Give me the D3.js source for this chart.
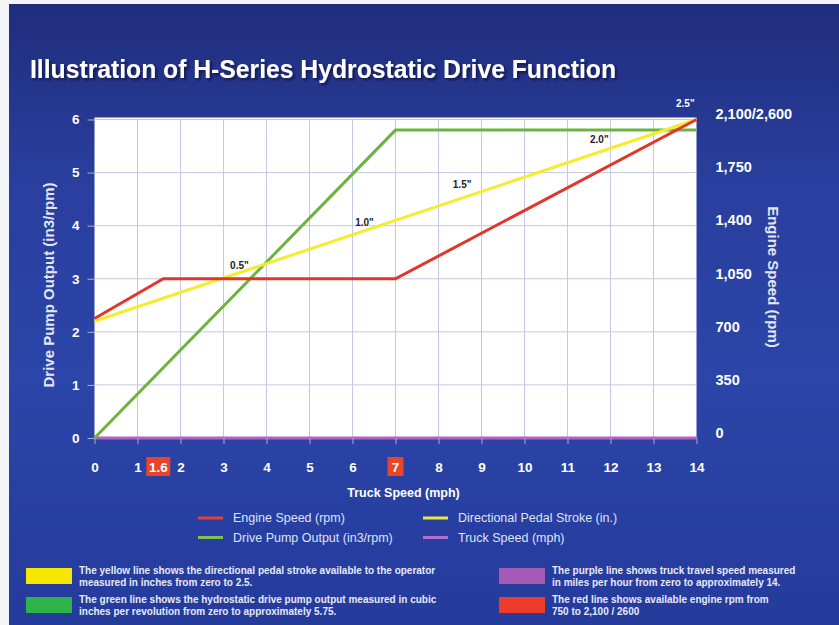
<!DOCTYPE html>
<html>
<head>
<meta charset="utf-8">
<script src="https://cdn.jsdelivr.net/npm/d3@7"></script>
<style>
  html, body { margin: 0; padding: 0; background: #f4f5f8; }
  svg { display: block; font-family: "Liberation Sans", Arial, sans-serif; }
  .axis text { fill: #ffffff; font-weight: bold; font-size: 13.5px; }
  .axis line { stroke: #a9aed6; }
  .axis path { display: none; }
</style>
</head>
<body>
<svg id="chart" width="839" height="625"></svg>
<script>
// Data
const xTicks = [0, 1, 2, 3, 4, 5, 6, 7, 8, 9, 10, 11, 12, 13, 14];
const leftTicks = [0, 1, 2, 3, 4, 5, 6];
const rightTickLabels = ["0", "350", "700", "1,050", "1,400", "1,750", "2,100/2,600"];
const highlightTicks = [{ v: 1.6, label: "1.6", nudge: -5 }, { v: 7, label: "7", nudge: 0 }];

// series: [truck speed (mph), left-axis value]
const engineSpeed = [[0, 2.25], [1.6, 3.0], [7, 3.0], [14, 6.0]];
const pedalStroke = [[0, 2.2], [14, 6.0]];
const pumpOutput = [[0, 0], [7, 5.8], [14, 5.8]];
const truckSpeed = [[0, 0], [14, 0]];

const strokeLabels = [
    { t: '0.5"', x: 3.37, y: 3.25 },
    { t: '1.0"', x: 6.28, y: 4.06 },
    { t: '1.5"', x: 8.55, y: 4.77 },
    { t: '2.0"', x: 11.74, y: 5.62 },
    { t: '2.5"', x: 13.74, y: 6.3 }
];

const colors = { red: "#e2362b", yellow: "#f4ec2c", green: "#6db33f", purple: "#b463c4" };

const legendItems = [
    { name: "Engine Speed (rpm)", color: "#e2403c", col: 0, row: 0 },
    { name: "Directional Pedal Stroke (in.)", color: "#eee63a", col: 1, row: 0 },
    { name: "Drive Pump Output (in3/rpm)", color: "#7fbf55", col: 0, row: 1 },
    { name: "Truck Speed (mph)", color: "#b070d2", col: 1, row: 1 }
];

const notes = [
    { color: "#f7e600", col: 0, row: 0, lines: ["The yellow line shows the directional pedal stroke available to the operator", "measured in inches from zero to 2.5."] },
    { color: "#2fb34b", col: 0, row: 1, lines: ["The green line shows the hydrostatic drive pump output measured in cubic", "inches per revolution from zero to approximately 5.75."] },
    { color: "#a35bb5", col: 1, row: 0, lines: ["The purple line shows truck travel speed measured", "in miles per hour from zero to approximately 14."] },
    { color: "#ee3a2b", col: 1, row: 1, lines: ["The red line shows available engine rpm from", "750 to 2,100 / 2600"] }
];

const svg = d3.select("#chart");
const defs = svg.append("defs");

let bg = defs.append("linearGradient").attr("id", "bg")
    .attr("x1", 0).attr("y1", 0).attr("x2", 0).attr("y2", 1);
bg.append("stop").attr("offset", "0%").attr("stop-color", "#1f2d7c");
bg.append("stop").attr("offset", "30%").attr("stop-color", "#2a3f9f");
bg.append("stop").attr("offset", "60%").attr("stop-color", "#2b45a8");
bg.append("stop").attr("offset", "100%").attr("stop-color", "#253b9c");

let shadow = defs.append("filter").attr("id", "shadow")
    .attr("x", "-5%").attr("y", "-20%").attr("width", "110%").attr("height", "150%");
shadow.append("feDropShadow").attr("dx", 2).attr("dy", 2).attr("stdDeviation", 1)
    .attr("flood-color", "#0a1040").attr("flood-opacity", 0.8);

svg.append("rect").attr("x", 9).attr("y", 4).attr("width", 830).attr("height", 621)
    .attr("fill", "url(#bg)");

// Title
svg.append("text")
    .attr("x", 30).attr("y", 78)
    .attr("fill", "#ffffff")
    .attr("font-weight", "bold")
    .attr("font-size", 25)
    .attr("textLength", 586)
    .attr("lengthAdjust", "spacingAndGlyphs")
    .attr("filter", "url(#shadow)")
    .text("Illustration of H-Series Hydrostatic Drive Function");

// Scales
const x = d3.scaleLinear().domain([0, 14]).range([94.5, 696.5]);
const y = d3.scaleLinear().domain([0, 6]).range([438, 119.5]);

// Plot area
svg.append("rect")
    .attr("x", x(0)).attr("y", y(6) - 2)
    .attr("width", x(14) - x(0)).attr("height", y(0) - y(6) + 2)
    .attr("fill", "#ffffff");

// Grid
svg.append("g").selectAll("line.v")
    .data(xTicks.slice(1, -1)).enter().append("line")
    .attr("x1", d => x(d)).attr("x2", d => x(d))
    .attr("y1", y(6)).attr("y2", y(0))
    .attr("stroke", "#c4c8e4").attr("stroke-width", 1);
svg.append("g").selectAll("line.h")
    .data(leftTicks.slice(1)).enter().append("line")
    .attr("x1", x(0)).attr("x2", x(14))
    .attr("y1", d => y(d)).attr("y2", d => y(d))
    .attr("stroke", "#c4c8e4").attr("stroke-width", 1);

// Lines
const line = d3.line().x(d => x(d[0])).y(d => y(d[1]));
const series = [
    { data: truckSpeed, color: colors.purple },
    { data: pumpOutput, color: colors.green },
    { data: pedalStroke, color: colors.yellow },
    { data: engineSpeed, color: colors.red }
];
svg.append("g").selectAll("path")
    .data(series).enter().append("path")
    .attr("d", d => line(d.data))
    .attr("fill", "none")
    .attr("stroke", d => d.color)
    .attr("stroke-width", 3)
    .attr("stroke-linejoin", "miter");

// Stroke labels on yellow line
svg.append("g").selectAll("text")
    .data(strokeLabels).enter().append("text")
    .attr("x", d => x(d.x)).attr("y", d => y(d.y))
    .attr("dy", "0.35em")
    .attr("text-anchor", "middle")
    .attr("font-size", 10)
    .attr("font-weight", "bold")
    .attr("fill", (d, i) => i == strokeLabels.length - 1 ? "#ffffff" : "#222222")
    .text(d => d.t);

// Axes
svg.append("g").attr("class", "axis")
    .attr("transform", "translate(" + x(0) + ",0)")
    .call(d3.axisLeft(y).tickValues(leftTicks).tickSize(7).tickPadding(8).tickFormat(d3.format("d")));

svg.append("g").attr("class", "axis right")
    .attr("transform", "translate(" + x(14) + ",0)")
    .call(d3.axisRight(y).tickValues(leftTicks).tickSize(0).tickPadding(19)
        .tickFormat((d, i) => rightTickLabels[i]))
    .selectAll("text").attr("dy", "-0.05em").style("font-size", "14.5px");

let xAxis = svg.append("g").attr("class", "axis")
    .attr("transform", "translate(0," + y(0) + ")")
    .call(d3.axisBottom(x).tickValues(xTicks).tickSize(6).tickPadding(18).tickFormat(d3.format("d")));

// Highlighted speed values with red boxes
let hl = svg.append("g").selectAll("g")
    .data(highlightTicks).enter().append("g")
    .attr("transform", d => "translate(" + (x(d.v) + d.nudge) + "," + (y(0) + 29) + ")");
hl.append("rect")
    .attr("x", d => d.label.length > 1 ? -12 : -8).attr("y", -10)
    .attr("width", d => d.label.length > 1 ? 24 : 16).attr("height", 19)
    .attr("fill", "#e8452c");
hl.append("text")
    .attr("text-anchor", "middle").attr("dy", "0.35em")
    .attr("fill", "#ffffff").attr("font-weight", "bold").attr("font-size", 13.5)
    .text(d => d.label);
xAxis.selectAll(".tick").filter(d => highlightTicks.some(h => h.v === d)).select("text").remove();

// Axis titles
svg.append("text")
    .attr("transform", "translate(54,285) rotate(-90)")
    .attr("text-anchor", "middle")
    .attr("fill", "#e4e7f5").attr("font-weight", "bold").attr("font-size", 15)
    .text("Drive Pump Output (in3/rpm)");

svg.append("text")
    .attr("transform", "translate(768,277) rotate(90)")
    .attr("text-anchor", "middle")
    .attr("fill", "#e4e7f5").attr("font-weight", "bold").attr("font-size", 15)
    .text("Engine Speed (rpm)");

svg.append("text")
    .attr("x", (x(0) + x(14)) / 2 + 8).attr("y", 497)
    .attr("text-anchor", "middle")
    .attr("fill", "#ffffff").attr("font-weight", "bold").attr("font-size", 12.5)
    .text("Truck Speed (mph)");

// Legend
let leg = svg.append("g").selectAll("g")
    .data(legendItems).enter().append("g")
    .attr("transform", d => "translate(" + (198 + d.col * 225) + "," + (518 + d.row * 19.5) + ")");
leg.append("line")
    .attr("x1", 0).attr("x2", 25)
    .attr("stroke", d => d.color).attr("stroke-width", 3);
leg.append("text")
    .attr("x", 35).attr("dy", "0.35em")
    .attr("fill", "#dfe3f2").attr("font-size", 12.5)
    .text(d => d.name);

// Notes
let note = svg.append("g").selectAll("g")
    .data(notes).enter().append("g")
    .attr("transform", d => "translate(" + (26 + d.col * 473) + "," + (568 + d.row * 29) + ")");
note.append("rect")
    .attr("width", 46).attr("height", 16)
    .attr("fill", d => d.color);
note.selectAll("text")
    .data(d => d.lines).enter().append("text")
    .attr("x", 53).attr("y", (d, i) => 6 + i * 12)
    .attr("fill", "#e6e9f5").attr("font-weight", "bold").attr("font-size", 10)
    .text(d => d);
</script>
</body>
</html>
